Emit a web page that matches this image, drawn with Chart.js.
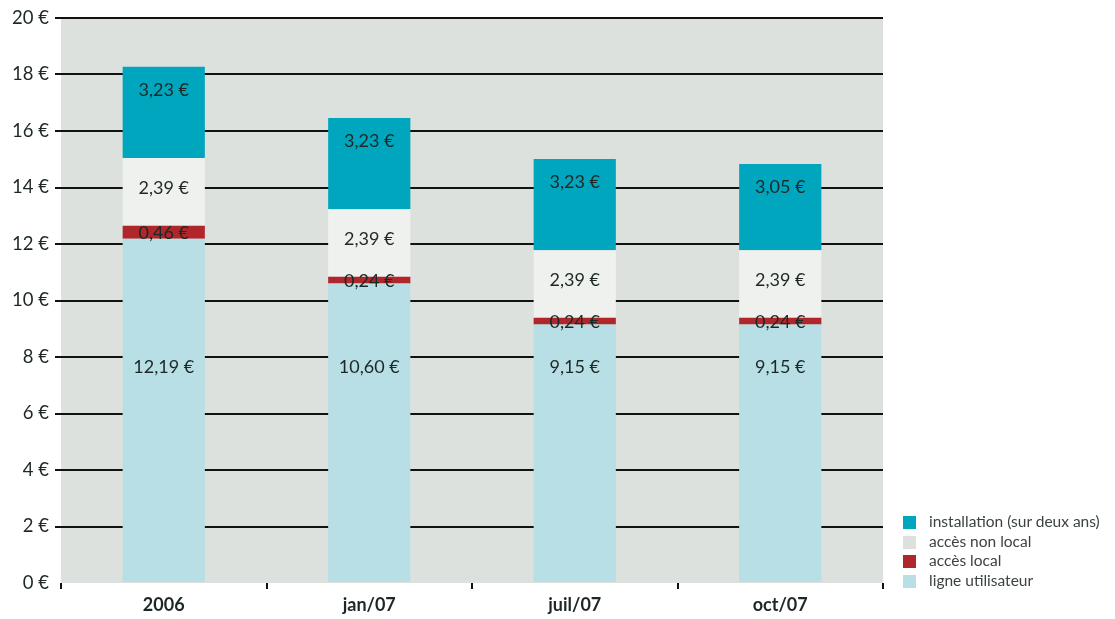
<!DOCTYPE html>
<html>
<head>
<meta charset="utf-8">
<script src="https://cdn.jsdelivr.net/npm/chart.js@4"></script>
<style>
  body { margin: 0; background: #fff; }
  #wrap { position: relative; width: 1115px; height: 619px; }
  #legend { position: absolute; left: 903px; top: 512px; font-family: Lato, sans-serif; font-size: 15.5px; color: #3c4342; }
  #legend div { height: 19.5px; line-height: 19.5px; white-space: nowrap; }
  #legend span { display: inline-block; width: 13px; height: 13px; vertical-align: -2px; margin-right: 13px; }
</style>
</head>
<body>
<div id="wrap">
  <canvas id="chart" width="1115" height="619"></canvas>
  <div id="legend"></div>
</div>
<script>
const categories = ['2006', 'jan/07', 'juil/07', 'oct/07'];
const ligneUtilisateur = [12.19, 10.60, 9.15, 9.15];
const accesLocal = [0.46, 0.24, 0.24, 0.24];
const accesNonLocal = [2.39, 2.39, 2.39, 2.39];
const installation = [3.23, 3.23, 3.23, 3.05];
const yTicks = [0, 2, 4, 6, 8, 10, 12, 14, 16, 18, 20];

const colors = {
  ligne: '#b8dee6',
  local: '#b0272b',
  nonLocal: '#eff1ee',
  install: '#00a6be'
};

// label formatting, french style
const fmt = (v) => v.toFixed(2).replace('.', ',') + ' €';

// grey background behind the bars
const plotBackground = {
  id: 'plotBackground',
  beforeDraw(chart) {
    const { ctx, chartArea } = chart;
    ctx.save();
    ctx.fillStyle = '#dce1dd';
    ctx.fillRect(chartArea.left, chartArea.top, chartArea.right - chartArea.left, chartArea.bottom - chartArea.top);
    ctx.restore();
  }
};

// value labels inside the segments
const segmentLabels = {
  id: 'segmentLabels',
  afterDatasetsDraw(chart) {
    const { ctx } = chart;
    const yScale = chart.scales.y;
    ctx.save();
    ctx.font = '18px Lato, sans-serif';
    ctx.fillStyle = '#1d2826';
    ctx.textAlign = 'center';
    ctx.textBaseline = 'middle';
    chart.data.datasets.forEach((ds, i) => {
      chart.getDatasetMeta(i).data.forEach((bar, j) => {
        let y;
        if (i === 0) y = yScale.getPixelForValue(7.65);
        else if (i === 1) y = (bar.y + bar.base) / 2 + 1;
        else if (i === 2) y = (bar.y + bar.base) / 2 - 4;
        else y = bar.y + 23;
        ctx.fillText(fmt(ds.data[j]), bar.x, y);
      });
    });
    ctx.restore();
  }
};

const datasets = [
  { label: 'ligne utilisateur', data: ligneUtilisateur, backgroundColor: colors.ligne },
  { label: 'accès local', data: accesLocal, backgroundColor: colors.local },
  { label: 'accès non local', data: accesNonLocal, backgroundColor: colors.nonLocal },
  { label: 'installation (sur deux ans)', data: installation, backgroundColor: colors.install }
];

new Chart(document.getElementById('chart'), {
  type: 'bar',
  data: { labels: categories, datasets: datasets },
  options: {
    responsive: false,
    animation: false,
    layout: { padding: { top: 18, right: 232, left: 0, bottom: 0 } },
    datasets: { bar: { categoryPercentage: 1, barPercentage: 0.4, borderWidth: 0 } },
    plugins: { legend: { display: false }, tooltip: { enabled: false } },
    scales: {
      x: {
        stacked: true,
        border: { display: false },
        grid: { offset: true, drawOnChartArea: false, drawTicks: true, tickLength: 6, color: '#111', lineWidth: 2 },
        ticks: { color: '#1d2826', padding: 5, font: { family: 'Lato, sans-serif', size: 18, weight: 'bold' } },
        afterFit(scale) { scale.height = 36; }
      },
      y: {
        stacked: true,
        min: 0,
        max: 20,
        border: { display: false },
        afterBuildTicks(scale) { scale.ticks = yTicks.map(v => ({ value: v })); },
        grid: {
          color: (c) => c.tick && c.tick.value === 0 ? 'rgba(0,0,0,0)' : '#111',
          lineWidth: 2,
          tickLength: 6,
          z: -1
        },
        ticks: {
          color: '#1d2826',
          padding: 6,
          font: { family: 'Lato, sans-serif', size: 18.5 },
          callback: (v) => v + ' €'
        },
        afterFit(scale) { scale.width = 61; }
      }
    }
  },
  plugins: [plotBackground, segmentLabels]
});

// legend, top series first
const legend = document.getElementById('legend');
datasets.slice().reverse().forEach(ds => {
  const row = document.createElement('div');
  row.innerHTML = `<span style="background:${ds.backgroundColor === colors.nonLocal ? '#dde1dd' : ds.backgroundColor}"></span>${ds.label}`;
  legend.appendChild(row);
});
</script>
</body>
</html>
